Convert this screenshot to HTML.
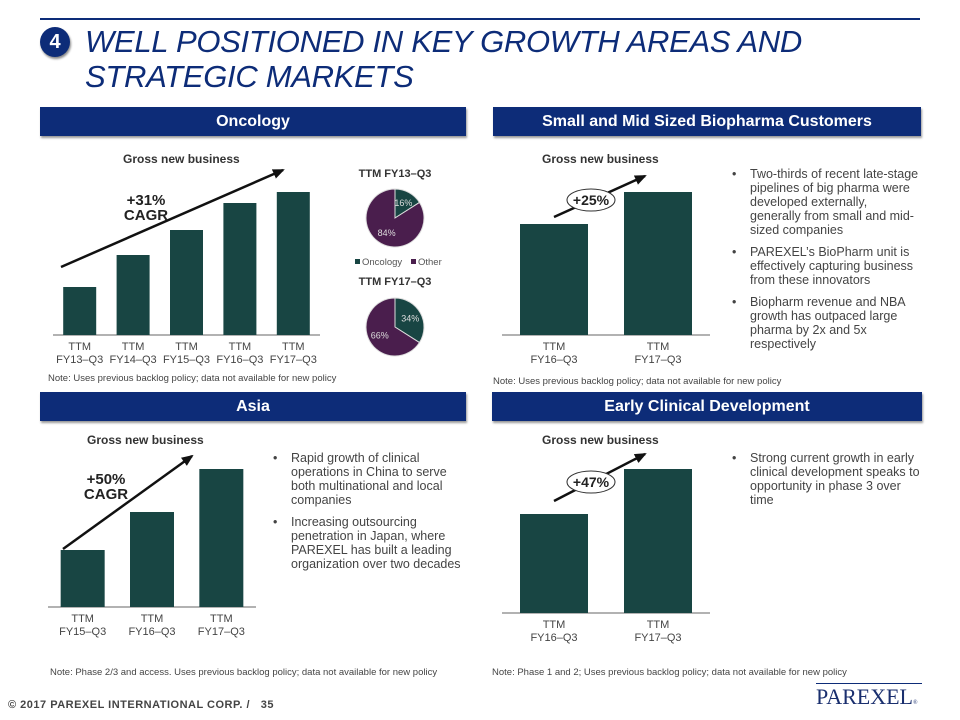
<!DOCTYPE html>
<html><head><meta charset="utf-8">
<style>
body{margin:0;width:960px;height:720px;background:#fff;position:relative;overflow:hidden;font-family:"Liberation Sans",Arial,sans-serif}
.abs{position:absolute}
.hdr{position:absolute;height:29px;background:#0d2c78;color:#fff;font-weight:bold;font-size:16px;text-align:center;line-height:29px;box-shadow:1px 2px 2px #999}
.gnb{position:absolute;font-weight:bold;font-size:12px;color:#333}
.note{position:absolute;font-size:9.5px;color:#444}
ul{margin:0;padding:0;list-style:none}
li{position:relative;padding-left:18px;font-size:12.5px;line-height:14px;color:#444;margin-bottom:8px}
li:before{content:"•";position:absolute;left:0;top:0}
.nw li{white-space:nowrap}
</style></head><body>
<div class="abs" style="left:40px;top:18px;width:880px;height:2px;background:#0d2c78"></div>
<div class="abs" style="left:40px;top:27px;width:30px;height:30px;border-radius:50%;background:#0d2c78;color:#fff;font-weight:bold;font-size:20px;text-align:center;line-height:30px;box-shadow:1px 2px 2px #888">4</div>
<div class="abs" style="left:85px;top:24px;font-size:31px;line-height:35px;font-style:italic;color:#0d2c78;letter-spacing:-0.3px">WELL POSITIONED IN KEY GROWTH AREAS AND<br>STRATEGIC MARKETS</div>

<div class="hdr" style="left:40px;top:107px;width:426px">Oncology</div>
<div class="hdr" style="left:493px;top:107px;width:428px">Small and Mid Sized Biopharma Customers</div>
<div class="hdr" style="left:40px;top:392px;width:426px">Asia</div>
<div class="hdr" style="left:492px;top:392px;width:430px">Early Clinical Development</div>

<div class="gnb" style="left:123px;top:152px">Gross new business</div>
<div class="gnb" style="left:542px;top:152px">Gross new business</div>
<div class="gnb" style="left:87px;top:433px">Gross new business</div>
<div class="gnb" style="left:542px;top:433px">Gross new business</div>

<div class="note" style="left:48px;top:373px">Note: Uses previous backlog policy; data not available for new policy</div>
<div class="note" style="left:493px;top:376px">Note: Uses previous backlog policy; data not available for new policy</div>
<div class="note" style="left:50px;top:667px">Note: Phase 2/3 and access. Uses previous backlog policy; data not available for new policy</div>
<div class="note" style="left:492px;top:667px">Note: Phase 1 and 2; Uses previous backlog policy; data not available for new policy</div>

<div class="abs nw" style="left:732px;top:167px;width:190px"><ul>
<li>Two-thirds of recent late-stage<br>pipelines of big pharma were<br>developed externally,<br>generally from small and mid-<br>sized companies</li>
<li>PAREXEL’s BioPharm unit is<br>effectively capturing business<br>from these innovators</li>
<li>Biopharm revenue and NBA<br>growth has outpaced large<br>pharma by 2x and 5x<br>respectively</li></ul></div>
<div class="abs" style="left:273px;top:451px;width:195px"><ul>
<li>Rapid growth of clinical operations in China to serve both multinational and local companies</li>
<li>Increasing outsourcing penetration in Japan, where PAREXEL has built a leading organization over two decades</li></ul></div>
<div class="abs" style="left:732px;top:451px;width:190px"><ul>
<li>Strong current growth in early clinical development speaks to opportunity in phase 3 over time</li></ul></div>

<div class="abs" style="left:8px;top:699px;font-size:11px;font-weight:bold;color:#444;letter-spacing:0.5px">© 2017 PAREXEL INTERNATIONAL CORP. / &nbsp;&nbsp;35</div>
<div class="abs" style="left:816px;top:683px;width:106px;border-top:1.5px solid #0d2c78;font-family:'Liberation Serif',serif;font-size:22px;color:#1a2f6e;line-height:26px">PAREXEL<span style="font-size:6px">®</span></div>

<svg id="chart" class="abs" style="left:0;top:0" width="960" height="720">
<defs><marker id="ah" markerUnits="userSpaceOnUse" markerWidth="12" markerHeight="10" refX="10" refY="5" orient="auto"><path d="M0,0 L12,5 L0,10 z" fill="#111"/></marker></defs>
</svg>
<script>
// Oncology gross new business (relative units)
const oncCats=["TTM|FY13–Q3","TTM|FY14–Q3","TTM|FY15–Q3","TTM|FY16–Q3","TTM|FY17–Q3"];
const oncVals=[48,80,105,132,143];
const bioCats=["TTM|FY16–Q3","TTM|FY17–Q3"];
const bioVals=[111,143];
const asiaCats=["TTM|FY15–Q3","TTM|FY16–Q3","TTM|FY17–Q3"];
const asiaVals=[57,95,138];
const earlyCats=["TTM|FY16–Q3","TTM|FY17–Q3"];
const earlyVals=[99,144];
const pieLabels=["Oncology","Other"];
const pie13=[16,84];
const pie17=[34,66];

const svg=document.getElementById('chart');
const NS='http://www.w3.org/2000/svg';
function mk(t,a){const e=document.createElementNS(NS,t);for(const k in a)e.setAttribute(k,a[k]);svg.appendChild(e);return e;}
function txt(x,y,s,a){const e=mk('text',Object.assign({x:x,y:y,'text-anchor':'middle','font-family':'Liberation Sans, Arial, sans-serif'},a));e.textContent=s;return e;}

function barChart(name,cats,vals,x0,x1,base,bw,scale){
  const ax=mk('line',{x1:x0,x2:x1,y1:base,y2:base,stroke:'#999','stroke-width':1.5});
  
  
  const step=(x1-x0)/cats.length;
  cats.forEach((c,i)=>{
    const cx=x0+step*(i+0.5);
    const h=vals[i]*scale;
    const r=mk('rect',{x:cx-bw/2,y:base-h,width:bw,height:h,fill:'#184543'});
    
    
    const p=c.split('|');
    const t1=txt(cx,base+15,p[0],{'font-size':11,fill:'#444'});
    
    
    const t2=txt(cx,base+28,p[1],{'font-size':11,fill:'#444'});
    
    
  });
}
barChart('oncology',oncCats,oncVals,53,320,335,33,1);
barChart('biopharma',bioCats,bioVals,502,710,335,68,1);
barChart('asia',asiaCats,asiaVals,48,256,607,44,1);
barChart('early',earlyCats,earlyVals,502,710,613,68,1);

function arrow(name,x1,y1,x2,y2){const l=mk('line',{x1:x1,y1:y1,x2:x2,y2:y2,stroke:'#111','stroke-width':2.5,'marker-end':'url(#ah)'});

}
arrow('oncology-trend-arrow',61,267,283,170);
arrow('biopharma-trend-arrow',554,217,645,176);
arrow('asia-trend-arrow',63,549,192,456);
arrow('early-trend-arrow',554,501,645,454);

function lbl(name,x,y,lines){lines.forEach((s,i)=>{const t=txt(x,y+i*15,s,{'font-size':15,'font-weight':'bold',fill:'#222'});

});}
lbl('oncology-cagr-label',146,205,['+31%','CAGR']);
lbl('asia-cagr-label',106,484,['+50%','CAGR']);
function oval(name,x,y,s){const e=mk('ellipse',{cx:x,cy:y,rx:24,ry:11,fill:'#fff',stroke:'#333','stroke-width':1});


const t=txt(x,y+5,s,{'font-size':14,'font-weight':'bold',fill:'#222'});

}
oval('biopharma-growth-label',591,200,'+25%');
oval('early-growth-label',591,482,'+47%');

const pieColors=['#184543','#4a1e4d'];
function pie(name,cx,cy,r,vals,title,ty){
  const tt=txt(cx,ty,title,{'font-size':11,'font-weight':'bold',fill:'#333'});
  
  
  const tot=vals.reduce((a,b)=>a+b,0);let a0=-Math.PI/2;
  vals.forEach((v,i)=>{const a1=a0+v/tot*2*Math.PI;const lg=(a1-a0)>Math.PI?1:0;
    const d=`M${cx},${cy} L${cx+r*Math.cos(a0)},${cy+r*Math.sin(a0)} A${r},${r} 0 ${lg} 1 ${cx+r*Math.cos(a1)},${cy+r*Math.sin(a1)} Z`;
    const p=mk('path',{d:d,fill:pieColors[i],stroke:'#ddd','stroke-width':1});
    
    
    const am=(a0+a1)/2;const t=txt(cx+r*0.6*Math.cos(am),cy+r*0.6*Math.sin(am)+3,v+'%',{'font-size':9,fill:'#ddd'});
    
    
    a0=a1;});
}
pie('pie-fy13',395,218,29,pie13,'TTM FY13–Q3',177);
pie('pie-fy17',395,327,29,pie17,'TTM FY17–Q3',285);
pieLabels.forEach((s,i)=>{const x=355+i*56;
  const r=mk('rect',{x:x,y:259,width:5,height:5,fill:pieColors[i]});
  
  
  const t=txt(x+7,265,s,{'font-size':9.5,fill:'#555','text-anchor':'start'});
  
  });
</script>
</body></html>
